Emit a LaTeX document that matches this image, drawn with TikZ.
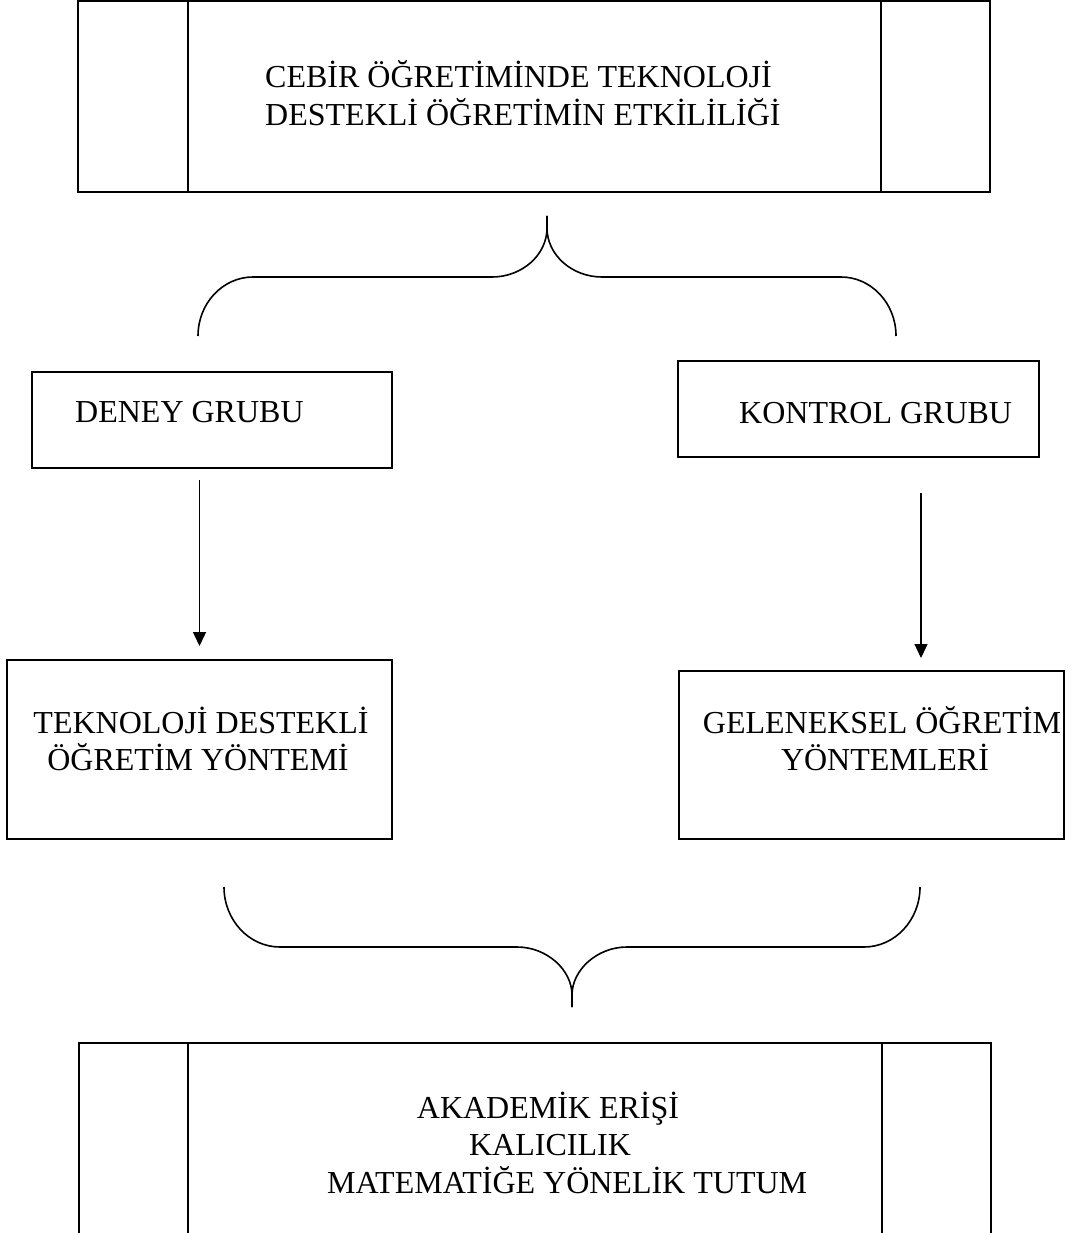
\documentclass[tikz,border=0pt]{standalone}
\usepackage{fontspec}
\setmainfont{Liberation Serif}
\usetikzlibrary{arrows.meta}
\tikzset{
  box/.style={draw, line width=2pt, inner sep=0pt},
  txt/.style={anchor=base, inner sep=0pt, font=\fontsize{32}{37}\selectfont},
  arr/.style={-{Triangle[length=14pt,width=13pt]}, line width=1.4pt},
  brace/.style={line width=1.6pt}
}
\begin{document}
\begin{tikzpicture}[x=1pt,y=-1pt]
  \useasboundingbox (0,0) rectangle (1072,1233);
  \node[box, minimum width=912pt, minimum height=191pt] (hedef) at (534,96.5) {};
  \node[box, minimum width=360pt, minimum height=96pt] (deney) at (212,420) {};
  \node[box, minimum width=361pt, minimum height=96pt] (kontrol) at (858.5,409) {};
  \node[box, minimum width=385pt, minimum height=179pt] (tekno) at (199.5,749.5) {};
  \node[box, minimum width=385pt, minimum height=168pt] (gelen) at (871.5,755) {};
  \node[box, minimum width=912pt, minimum height=202pt] (sonuc) at (535,1144) {};
  \begin{scope}[line width=2pt]
    \draw ([xshift=111pt]hedef.north west) -- ([xshift=111pt]hedef.south west);
    \draw ([xshift=-110pt]hedef.north east) -- ([xshift=-110pt]hedef.south east);
    \draw ([xshift=110pt]sonuc.north west) -- ([xshift=110pt]sonuc.south west);
    \draw ([xshift=-110pt]sonuc.north east) -- ([xshift=-110pt]sonuc.south east);
  \end{scope}
  \node[txt, anchor=base west] (cebir1) at (265,88) {CEBİR ÖĞRETİMİNDE TEKNOLOJİ};
  \node[txt, anchor=base west] (cebir2) at (265,126) {DESTEKLİ ÖĞRETİMİN ETKİLİLİĞİ};
  \node[txt, anchor=base west] (deneytxt) at (75,422) {DENEY GRUBU};
  \node[txt, anchor=base west] (kontroltxt) at (739,423) {KONTROL GRUBU};
  \node[txt] (tekno1) at (201,733) {TEKNOLOJİ DESTEKLİ};
  \node[txt] (tekno2) at (198,770) {ÖĞRETİM YÖNTEMİ};
  \node[txt] (gelen1) at (882,733) {GELENEKSEL ÖĞRETİM};
  \node[txt] (gelen2) at (885,770) {YÖNTEMLERİ};
  \node[txt] (sonuc1) at (548,1118) {AKADEMİK ERİŞİ};
  \node[txt] (sonuc2) at (550,1155.5) {KALICILIK};
  \node[txt, anchor=base west] (sonuc3) at (327,1193) {MATEMATİĞE YÖNELİK TUTUM};
  \draw[arr, shorten <=11pt, shorten >=13pt] (tekno.north |- deney.south) -- (tekno.north);
  \draw[arr, shorten <=35pt, shorten >=12pt] ([xshift=49.5pt]gelen.north |- kontrol.south) -- ([xshift=49.5pt]gelen.north);
  \draw[brace] (547,216) -- (547,228) .. controls (547,255) and (522,277) .. (492,277) -- (253,277) .. controls (223,277) and (198,303) .. (198,336);
  \draw[brace] (547,216) -- (547,228) .. controls (547,255) and (572,277) .. (602,277) -- (841,277) .. controls (871,277) and (896,303) .. (896,336);
  \draw[brace] (572,1007) -- (572,995) .. controls (572,970) and (547,947) .. (517,947) -- (280,947) .. controls (249,947) and (224,920) .. (224,887);
  \draw[brace] (572,1007) -- (572,995) .. controls (572,970) and (597,947) .. (627,947) -- (864,947) .. controls (895,947) and (920,920) .. (920,887);
\end{tikzpicture}
\end{document}
